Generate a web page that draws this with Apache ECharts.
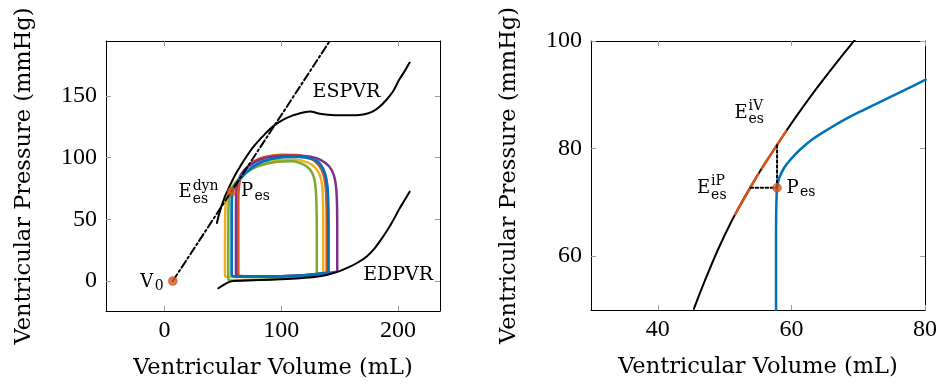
<!DOCTYPE html>
<html><head><meta charset="utf-8">
<script src="https://cdn.jsdelivr.net/npm/echarts@6/dist/echarts.min.js"></script>
<style>html,body{margin:0;padding:0;background:#fff}#c{width:940px;height:385px}</style>
</head><body><div id="c"></div>
<script>
// ---------- data (left panel) ----------
const espvr = [[45,47],[46.5,53],[48.5,59.5],[51.8,68.5],[53.9,72.8],[55.8,76.8],[58,81],[60,84.8],[62,88.3],[65,93],[69.3,99.5],[76,108.5],[85,118],[93,125.3],[100,129.8],[110,134.2],[120,136.8],[125,137.4],[129,136.6],[133,135.6],[140,134.8],[150,134.3],[160,134.3],[167,134.6],[173,135.6],[178.6,137.5],[184,141],[190,146.7],[196,154],[201,163],[206,170.5],[210,177]];
const edpvr = [[46.2,-5.9],[50,-3.5],[56.2,-0.5],[65,0.3],[81.8,0.8],[100,1.4],[116,2.2],[130,3.4],[138.8,4.9],[150,8],[158.9,11.6],[166,15.2],[173,19.7],[180,26.5],[187.2,35.9],[194,46],[201.5,58.9],[206,66],[210,72.4]];
const tangentDyn = [[7.2,0],[141.6,194.5]];
const loopYellow = [[136,6],[136,40],[135.8,65],[135,78],[133,86],[129,92],[123,96],[112,98.3],[95,97.5],[80,93.5],[70,88],[62,81],[57,75],[54,69],[52.5,62],[52,50],[51.9,20],[51.9,6],[52.5,3.6],[60,3.3],[80,3.4],[100,3.7],[120,4.4],[136,6]];
const loopOrange = [[139,6.5],[139,40],[138.8,62],[138,77],[136,87],[132,94],[126,99],[115,102],[100,102.3],[85,100.3],[75,96],[69,90],[65.5,84],[63.8,76],[63.3,60],[63.3,20],[63.3,5],[64.5,4],[80,3.6],[100,3.8],[120,4.6],[139,6.5]];
const loopPurple = [[148,7.5],[148,40],[147.8,62],[147,76],[145,86],[141,93],[134,98],[125,100.8],[110,101.6],[95,101],[82,98.5],[72,93],[66,87],[63,81],[61.6,74],[61.3,55],[61.3,20],[61.3,5],[62.5,4],[80,3.8],[100,3.9],[125,5],[148,7.5]];
const loopGreen = [[130.5,5],[130.5,40],[130.2,62],[129.5,75],[128,84],[125,90],[120,94],[110,97],[95,96.5],[80,93],[70,88],[63,82],[58,75],[55.5,68],[54.8,55],[54.7,20],[54.7,2],[56,0.4],[70,0.8],[90,1.5],[110,2.8],[130.5,5]];
const loopBlue = [[140.5,6.7],[140.5,40],[140.3,62],[139.5,77],[137.5,87],[134,94],[128,98.5],[115,100.6],[100,100.2],[85,97.2],[75,92],[68,86],[62,80],[59,75],[57.8,68],[57.6,50],[57.6,20],[57.6,5],[59,3.8],[80,3.5],[100,3.7],[120,4.5],[140.5,6.7]];
const pointsLeft = [[7.2,0],[57.6,72.4]];
const xTicksLeft = [0,100,200];
const yTicksLeft = [0,50,100,150];

// ---------- data (right panel) ----------
const espvrZoom = [[45.4,50.2],[47,55.3],[49,61.2],[51,66.4],[53,71.0],[55,75.2],[57,79.1],[59,82.85],[61,86.45],[64,91.55],[67,96.35],[69.5,100.2]];
const eiP = [[51.6,67.8],[55.05,75.3]];
const eiV = [[55.6,76.4],[59.2,83.2]];
const loopZoom = [[57.7,50],[57.7,62],[57.72,68],[57.78,71],[57.85,72.7],[58.2,74.6],[58.9,76.4],[59.9,78],[61.2,79.7],[63,81.6],[65.5,83.6],[68.3,85.6],[71,87.3],[73.3,88.7],[77,90.9],[80.1,92.8]];
const dotH = [[53.9,72.7],[57.85,72.7]];
const dotV = [[57.85,72.7],[57.85,80.8]];
const pointsRight = [[57.85,72.7]];
const xTicksRight = [40,60,80];
const yTicksRight = [60,80,100];

const C = {blue:'#0072BD', orange:'#D95319', yellow:'#EDB120', purple:'#7E2F8E', green:'#77AC30'};
const tickFont = 'Liberation Serif';
const titleFont = 'DejaVu Serif';
const annFont = 'DejaVu Serif';

function axisPair(grid, dim, min, max, ticks, name, gap) {
  const isX = dim === 'x';
  const base = {
    gridIndex: grid, type: 'value', min: min, max: max, scale: true,
    axisLine: {show: true, onZero: false, lineStyle: {color: '#000', width: 1}},
    axisTick: {show: true, inside: true, length: 5, customValues: ticks, lineStyle: {color: '#9a9a9a', width: 1}},
    splitLine: {show: false}
  };
  const main = Object.assign({}, base, {
    position: isX ? 'bottom' : 'left',
    axisLabel: {customValues: ticks, color: '#000', fontSize: 24, fontFamily: tickFont, margin: isX ? 8 : 9},
    name: name, nameLocation: 'middle', nameGap: gap,
    nameTextStyle: {color: '#000', fontSize: 22.5, fontFamily: titleFont}
  });
  const other = Object.assign({}, base, {position: isX ? 'top' : 'right', axisLabel: {show: false}});
  return [main, other];
}

const xAxes = [].concat(
  axisPair(0, 'x', -50, 236, xTicksLeft, 'Ventricular Volume (mL)', 46),
  axisPair(1, 'x', 30, 80, xTicksRight, 'Ventricular Volume (mL)', 46)
);
const yAxes = [].concat(
  axisPair(0, 'y', -24.3, 194.5, yTicksLeft, 'Ventricular Pressure (mmHg)', 70),
  axisPair(1, 'y', 50, 100, yTicksRight, 'Ventricular Pressure (mmHg)', 70)
);

function line(data, color, width, xi, type, z, smooth) {
  return {type: 'line', data: data, xAxisIndex: xi, yAxisIndex: xi, showSymbol: false, symbol: 'none',
    smooth: smooth || false,
    lineStyle: {color: color, width: width, type: type || 'solid', cap: 'round', join: 'round'},
    animation: false, silent: true, z: z || 2, clip: true};
}
function dots(data, xi) {
  return {type: 'scatter', data: data, xAxisIndex: xi, yAxisIndex: xi, symbolSize: 9,
    itemStyle: {color: C.orange, borderColor: '#b8431a', borderWidth: 0.5}, z: 10, animation: false, silent: true};
}

const series = [
  line(loopYellow, C.yellow, 2.5, 0, 'solid', 2, 0.25),
  line(loopOrange, C.orange, 2.5, 0, 'solid', 2, 0.25),
  line(loopPurple, C.purple, 2.5, 0, 'solid', 2, 0.25),
  line(loopGreen, C.green, 2.5, 0, 'solid', 2, 0.25),
  line(loopBlue, C.blue, 2.8, 0, 'solid', 2, 0.25),
  line(espvr, '#000', 2, 0, 'solid', 3, 0.35),
  line(edpvr, '#000', 2, 0, 'solid', 3, 0.35),
  line(tangentDyn, '#000', 2, 0, [8, 3, 2, 3], 4),
  dots(pointsLeft, 0),
  line(espvrZoom, '#000', 2, 2, 'solid', 3, 0.3),
  line(eiP, C.orange, 2.5, 2, 'solid', 4),
  line(eiV, C.orange, 2.5, 2, 'solid', 4),
  line(loopZoom, C.blue, 2.5, 2, 'solid', 3, 0.4),
  line(dotH, '#000', 2, 2, [2.5, 2.5], 4),
  line(dotV, '#000', 2, 2, [2.5, 2.5], 4),
  dots(pointsRight, 2)
];

const chart = echarts.init(document.getElementById('c'), null, {renderer: 'canvas'});
chart.setOption({
  backgroundColor: '#fff',
  animation: false,
  grid: [
    {left: 106, top: 41, width: 334, height: 270, containLabel: false},
    {left: 591, top: 41, width: 334, height: 269, containLabel: false}
  ],
  xAxis: xAxes,
  yAxis: yAxes,
  series: series
});

// annotation texts anchored at data coordinates (main letter centre) + sub/superscripts
const annot = [
  {g: 0, at: [155.9, 153.4], main: 'ESPVR', size: 19},
  {g: 0, at: [200.2, 4.9], main: 'EDPVR', size: 19},
  {g: 0, at: [-15.2, -0.8], main: 'V', size: 18, sub: '0', dx: 8, dySub: 4},
  {g: 0, at: [17.7, 72.0], main: 'E', size: 18, sub: 'es', sup: 'dyn', dx: 7.6, dySub: 7.5, dySup: -6},
  {g: 0, at: [70.7, 72.4], main: 'P', size: 18, sub: 'es', dx: 7.6, dySub: 5},
  {g: 2, at: [52.45, 86.6], main: 'E', size: 18, sub: 'es', sup: 'iV', dx: 7.6, dySub: 6.5, dySup: -7},
  {g: 2, at: [46.84, 72.67], main: 'E', size: 18, sub: 'es', sup: 'iP', dx: 7.6, dySub: 7.5, dySup: -6.5},
  {g: 2, at: [60.16, 72.67], main: 'P', size: 18, sub: 'es', dx: 7.6, dySub: 4.4}
];
const graphics = [];
annot.forEach(a => {
  const p = chart.convertToPixel({xAxisIndex: a.g, yAxisIndex: a.g}, a.at);
  graphics.push({type: 'text', x: p[0], y: p[1], z: 20, style: {text: a.main, fill: '#000', font: a.size + 'px "' + annFont + '"', textAlign: 'center', textVerticalAlign: 'middle'}});
  if (a.sub) graphics.push({type: 'text', x: p[0] + a.dx, y: p[1] + a.dySub, z: 20, style: {text: a.sub, fill: '#000', font: '14px "' + annFont + '"', textAlign: 'left', textVerticalAlign: 'middle'}});
  if (a.sup) graphics.push({type: 'text', x: p[0] + a.dx, y: p[1] + a.dySup, z: 20, style: {text: a.sup, fill: '#000', font: '14px "' + annFont + '"', textAlign: 'left', textVerticalAlign: 'middle'}});
});
chart.setOption({graphic: graphics});
</script></body></html>
